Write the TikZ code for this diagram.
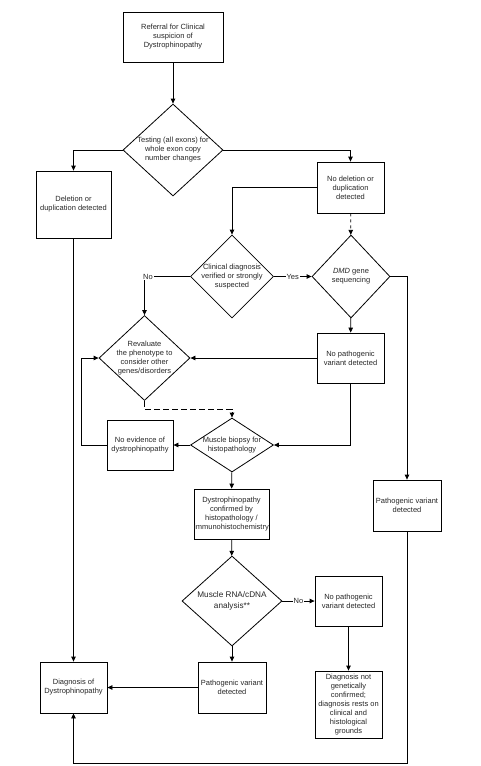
\documentclass[tikz,border=0pt]{standalone}
\usepackage{fontspec}
\setmainfont{Liberation Sans}
\usetikzlibrary{shapes.geometric,arrows.meta}
\tikzset{
  box/.style={draw, rectangle, align=center, inner sep=0pt, minimum width=67, minimum height=50},
  decision/.style={draw, diamond, inner sep=0pt},
  tag/.style={fill=white, inner sep=1pt}
}
\begin{document}
\begin{tikzpicture}[x=1pt, y=-1pt, line width=0.8pt, >={Triangle[length=5pt,width=4.5pt]},
  every node/.style={font=\fontsize{7.5}{9}\selectfont, text=black!85}]
\useasboundingbox (0,0) rectangle (481,766);
% top of the chart
\node[box, minimum width=100] (refer) at (173,37) {Referral for Clinical\\suspicion of\\Dystrophinopathy};
\node[decision, minimum width=100, minimum height=92,
  label={[align=center]center:Testing (all exons) for\\whole exon copy\\number changes}] (test) at (173,150) {};
\node[box, minimum width=75, minimum height=67] (deldup) at (73.5,204.5) {Deletion or\\duplication detected};
\node[box, minimum height=51] (nodel) at (350.5,187.5) {No deletion or\\duplication\\detected};
% second level decisions
\node[decision, minimum width=83, minimum height=83,
  label={[align=center]center:Clinical diagnosis\\verified or strongly\\suspected}] (clin) at (232,276.5) {};
\node[decision, minimum width=78, minimum height=83,
  label={[align=center]center:\textit{DMD} gene\\sequencing}] (dmd) at (351,276.5) {};
\node[box] (nopath) at (350.5,358) {No pathogenic\\variant detected};
\node[decision, minimum width=91, minimum height=85,
  label={[align=center]center:Revaluate\\the phenotype to\\consider other\\genes/disorders}] (reval) at (144.5,358) {};
\node[inner sep=0.5pt] (nolbl) at (148,276.5) {No};
% biopsy branch
\node[decision, minimum width=83, minimum height=54,
  label={[align=center]center:Muscle biopsy for\\histopathology}] (biopsy) at (232,445) {};
\node[box, minimum width=66] (noevid) at (140,445) {No evidence of\\dystrophinopathy};
\node[box, minimum width=75] (confirm) at (231.5,514) {Dystrophinopathy\\confirmed by\\histopathology /\\immunohistochemistry};
\node[box, minimum width=68, minimum height=51] (pathr) at (407,505.5) {Pathogenic variant\\detected};
% RNA analysis
\node[decision, minimum width=100, minimum height=90,
  label={[align=center, font=\fontsize{8.2}{10.5}\selectfont]center:Muscle RNA/cDNA\\analysis**}] (rna) at (232,601) {};
\node[box] (nopathb) at (348.5,601) {No pathogenic\\variant detected};
\node[box, minimum height=67] (notconf) at (348.5,704.5) {Diagnosis not\\genetically\\confirmed;\\diagnosis rests on\\clinical and\\histological\\grounds};
\node[box, minimum width=68, minimum height=51] (pathb) at (232,687.5) {Pathogenic variant\\detected};
\node[box, minimum height=51] (diag) at (73.5,687.5) {Diagnosis of\\Dystrophinopathy};
\coordinate (dsh) at (144.5,409);
\coordinate (loop) at (81,445);
\coordinate (bot) at (407,763);
% connectors
\draw[->] (refer) -- (test);
\draw[->] (test.west) -| (deldup.north);
\draw[->] (test.east) -| (nodel.north);
\draw[->] (nodel.west) -| (clin.north);
\draw[->, dashed] (nodel) -- (dmd);
\draw (clin.west) -- (nolbl.east);
\draw[->] (nolbl.south -| reval.north) -- (reval.north);
\draw[->] (clin.east) -- node[tag]{Yes} (dmd.west);
\draw[->] (dmd.east) -| (pathr.north);
\draw[->] (dmd) -- (nopath);
\draw[->] (nopath.west) -- (reval.east);
\draw[->] (nopath.south) |- (biopsy.east);
\draw[->, dash pattern=on 6pt off 3pt] (reval.south) -- (dsh) -| (biopsy.north);
\draw[->] (biopsy.west) -- (noevid.east);
\draw[->] (noevid.west) -- (loop) |- (reval.west);
\draw[->] (biopsy) -- (confirm);
\draw[->] (confirm) -- (rna);
\draw[->] (rna.east) -- node[tag]{No} (nopathb.west);
\draw[->] (nopathb) -- (notconf);
\draw[->] (rna) -- (pathb);
\draw[->] (pathb) -- (diag);
\draw[->] (deldup) -- (diag);
\draw[->] (pathr.south) -- (bot) -| (diag.south);
\end{tikzpicture}
\end{document}
